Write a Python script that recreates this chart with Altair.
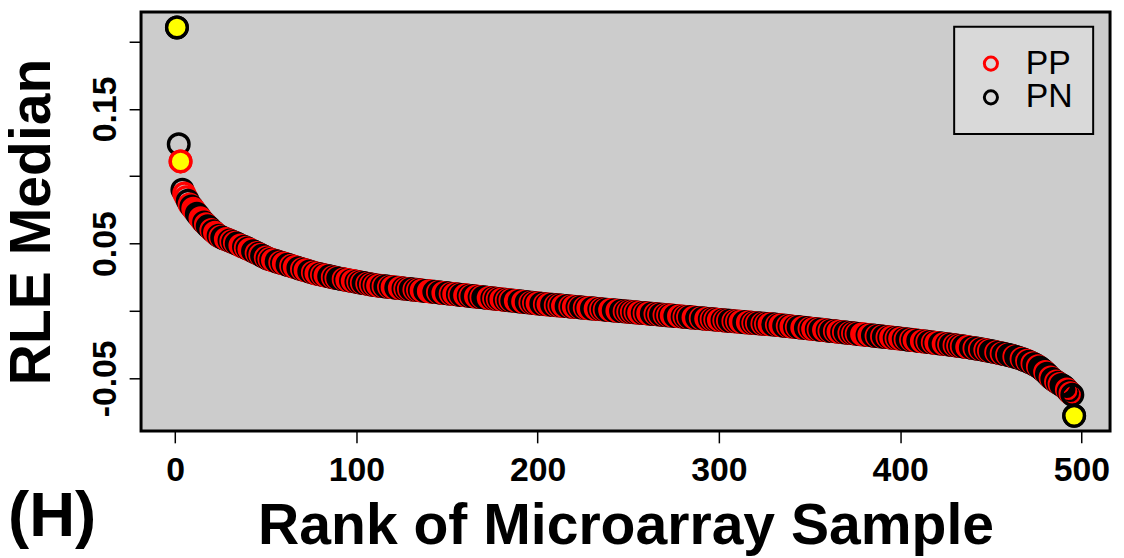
import altair as alt
import pandas as pd

# RLE median of each microarray sample, sorted by rank (units of 1e-4)
rle_median_x1e4 = [
    2104, 1237, 1110,
    900, 872, 845, 818, 790,
    775, 758, 741, 722, 706, 689, 670,
    656, 643, 628, 617, 602, 591, 580, 568, 558,
    551, 545, 538, 534, 528, 523, 517, 512, 506,
    500, 494, 487, 481, 476, 469, 463, 457, 450,
    444, 437, 430, 424, 417, 410, 404, 397, 390,
    385, 381, 377, 373, 369, 364, 360, 356, 352, 348, 343, 339, 335, 331, 326,
    322, 318, 314, 310, 306, 302, 298, 294, 290, 285, 281,
    278, 275, 272, 269, 266, 263, 260, 257, 254, 251, 248, 245, 242,
    240, 237, 235, 232, 230, 227, 225, 222, 220, 217, 215, 212, 210, 207, 205, 202, 200, 197, 195, 192, 190,
    188, 187, 185, 184, 182, 181, 179, 178, 176, 175,
    173, 172, 170, 169, 167, 166, 164, 163, 161, 160,
    158, 157, 155, 154, 152, 151, 149, 148, 146, 145,
    143, 142, 140, 139, 137, 136, 134, 133, 131, 130,
    128, 127, 125, 124, 122, 121, 119, 118, 116, 115,
    113, 112, 110, 109, 107, 106, 104, 103, 101, 100,
    98, 97, 95, 94, 92, 91, 89, 88, 86, 85,
    83, 82, 80, 79, 77, 76, 74, 73, 71, 70,
    68, 67, 65, 64, 62, 61, 59, 58, 56, 55,
    53, 52, 50,
    49, 48, 47, 46, 44, 43, 42, 41, 40, 38,
    37, 36, 35, 34, 32, 31, 30, 29, 27, 26,
    25, 24, 23, 21, 20, 19, 18, 17, 15, 14,
    13, 12, 10, 9, 8, 7, 6, 4, 3, 2,
    1, 0, -2, -3, -4, -5, -6, -8, -9, -10,
    -11, -13, -14, -15, -16, -17, -19, -20, -21, -22,
    -23, -25, -26, -27, -28, -30, -31, -32, -33, -34,
    -36, -37, -38, -39, -40, -42, -43, -44, -45, -47,
    -48, -49, -50, -51, -53, -54, -55, -56, -57, -59,
    -60, -61, -62, -63, -65, -66, -67, -68, -70, -71,
    -72, -73, -74, -76, -77, -78, -79, -80, -82, -83,
    -84, -85, -86, -88, -89, -90, -91, -92, -93, -94,
    -95, -96, -97, -98, -99, -100,
    -101, -103, -104, -106, -107, -109, -110, -112, -113, -115,
    -116, -118, -119, -121, -122, -124, -125, -127, -128, -130,
    -131, -133, -134, -136, -137, -139, -140, -142, -143, -145,
    -146, -148, -149, -151, -152, -154, -155, -157, -158, -160,
    -161, -163, -164, -166, -167, -169, -170, -172, -173, -175,
    -176, -178, -179, -181, -182, -184, -185, -187, -188, -190,
    -191, -193, -194, -196, -197, -199, -200, -202, -203, -205,
    -206, -208, -209, -211, -213, -214, -216, -218, -219, -221,
    -222, -224, -226, -227, -229, -231, -232, -234, -236, -237,
    -239, -241, -242, -244, -246, -247, -249, -250,
    -252, -254, -256, -258, -260, -262, -264, -266, -268, -270, -272,
    -274, -276, -278, -281, -283, -285, -288, -290, -293, -295, -298,
    -300, -303, -306, -309, -312, -315, -318, -321, -324, -327, -331, -334, -338, -342, -346,
    -350, -355, -360, -365, -370, -376, -382, -388, -395, -402,
    -410, -420, -430, -441, -453, -466, -480, -494,
    -505, -515, -524, -533, -541, -549, -557,
    -568, -582, -597, -611, -622, -778,
]

# sample group per rank: r = PP, k = PN
group_code = (
    "kkrkrrkrkr" "rkkrrkrkkr" "krrkrkkrrk" "rkrkkrrkrk" "rrkkrkrkkr"
    "krkrrkkrkr" "rkkrkrrkkr" "krrkkrkrrk" "rkrrkkrkrk" "kkrkrrkrrk"
    "rkrkkrkrkr" "krrkrkkrkr" "rkkrrkrkrk" "krkrkrrkkr" "rrkkrkkrrk"
    "krkrrkrkkr" "rkrkkrrkrk" "kkrrkrkrkr" "rkrkrkkrrk" "krrkkrkrkr"
    "rkkrkrrkkr" "krkrrkkrkr" "rkrkkrkrrk" "krrkrkrkkr" "rkkrrkkrkr"
    "krkrkrrkrk" "rrkkrkrkkr" "krkrrkkrrk" "rkrkkrrkkr" "kkrrkrkrkr"
    "rkrkrkkrkr" "krrkkrrkrk" "rkkrkrkrrk" "krkrrkkrkr" "rkrkkrrkkr"
    "krrkrkkrrk" "rkkrkrrkrk" "krkrkrkkrr" "rkrrkkrkkr" "kkrkrrkrkr"
    "rkrkkrkrrk" "krrkrkkrkr" "rkkrrkrkkr" "krkrkkrrkk" "rkkrkkrkrk"
    "kkrkkrkkrk" "kkrkkkrkkr" "kkrkkrkkkr" "kkrkkrkrkk" "krkrkk"
)

highlight_ranks = [1, 3, 496]
groups = ["PP", "PN"]
group_colors = ["#ff0000", "#000000"]
x_ticks = [0, 100, 200, 300, 400, 500]
y_ticks = [-0.05, 0.0, 0.05, 0.10, 0.15, 0.20]

n = min(len(rle_median_x1e4), len(group_code))
df = pd.DataFrame({
    "rank": list(range(1, n + 1)),
    "rle": [v / 1e4 for v in rle_median_x1e4[:n]],
    "group": ["PP" if c == "r" else "PN" for c in group_code[:n]],
})
hl = df[df["rank"].isin(highlight_ranks)]

FONT = "Liberation Sans"
x_scale = alt.Scale(domain=[-18.8, 515.8], nice=False, zero=False)
y_scale = alt.Scale(domain=[-0.089, 0.2219], nice=False, zero=False)
color_scale = alt.Scale(domain=groups, range=group_colors)

x_axis = alt.Axis(
    values=x_ticks, title="Rank of Microarray Sample", format="d",
    domain=False, grid=False, ticks=True, tickSize=12, tickWidth=1.5, tickColor="black",
    labelFont=FONT, labelFontSize=34, labelFontWeight="bold", labelColor="black",
    labelPadding=11, labelFlush=False, labelOverlap=False,
    titleFont=FONT, titleFontSize=57.5, titleFontWeight="bold", titleColor="black",
    titleX=488, titleY=113, titleBaseline="alphabetic", titleAlign="center",
)
y_axis = alt.Axis(
    values=y_ticks, title="RLE Median",
    labelExpr=(
        "(round(datum.value*100) == 15 || round(datum.value*100) == 5 || round(datum.value*100) == -5)"
        " ? ((datum.value < 0 ? '-' : '') + format(abs(datum.value), '.2f')) : ''"
    ),
    domain=False, grid=False, ticks=True, tickSize=12, tickWidth=1.5, tickColor="black",
    labelFont=FONT, labelFontSize=34, labelFontWeight="bold", labelColor="black",
    labelAngle=270, labelAlign="center", labelBaseline="alphabetic", labelPadding=14,
    labelFlush=False, labelOverlap=False,
    titleFont=FONT, titleFontSize=57.5, titleFontWeight="bold", titleColor="black",
    titleAngle=270, titleX=-92, titleY=211, titleBaseline="alphabetic", titleAlign="center",
)

base = alt.Chart(df).mark_point(
    shape="circle", filled=False, size=430, strokeWidth=3.4, opacity=1
).encode(
    x=alt.X("rank:Q", scale=x_scale, axis=x_axis),
    y=alt.Y("rle:Q", scale=y_scale, axis=y_axis),
    color=alt.Color(
        "group:N", scale=color_scale,
        legend=alt.Legend(
            title=None, orient="none", legendX=819, legendY=15,
            fillColor="#d9d9d9", strokeColor="black", padding=20,
            symbolType="circle", symbolSize=175, symbolStrokeWidth=3,
            symbolOffset=0, labelOffset=18, rowPadding=0,
            labelFont=FONT, labelFontSize=34, labelColor="black", labelLimit=200,
        ),
    ),
    order=alt.Order("rank:Q"),
)

yellow = alt.Chart(hl).mark_point(
    shape="circle", filled=True, size=430, strokeWidth=3.4, opacity=1
).encode(
    x=alt.X("rank:Q", scale=x_scale),
    y=alt.Y("rle:Q", scale=y_scale),
    fill=alt.value("#ffff00"),
    stroke=alt.Stroke("group:N", scale=color_scale, legend=None),
)

panel_label = alt.Chart(pd.DataFrame({"t": ["(H)"]})).mark_text(
    align="left", baseline="alphabetic", fontSize=64, fontWeight="bold",
    font=FONT, color="black"
).encode(x=alt.value(-134), y=alt.value(528), text="t:N")

chart = alt.layer(base, yellow, panel_label).properties(
    width=976, height=422,
    background="white",
    autosize=alt.AutoSizeParams(type="none"),
    padding={"left": 134, "top": 2, "right": 6, "bottom": 124},
).configure_view(
    fill="#cccccc", stroke="black", strokeWidth=3
).configure_legend(
    strokeWidth=2
)

chart.save("out.html", embed_options={"renderer": "svg", "actions": False})
